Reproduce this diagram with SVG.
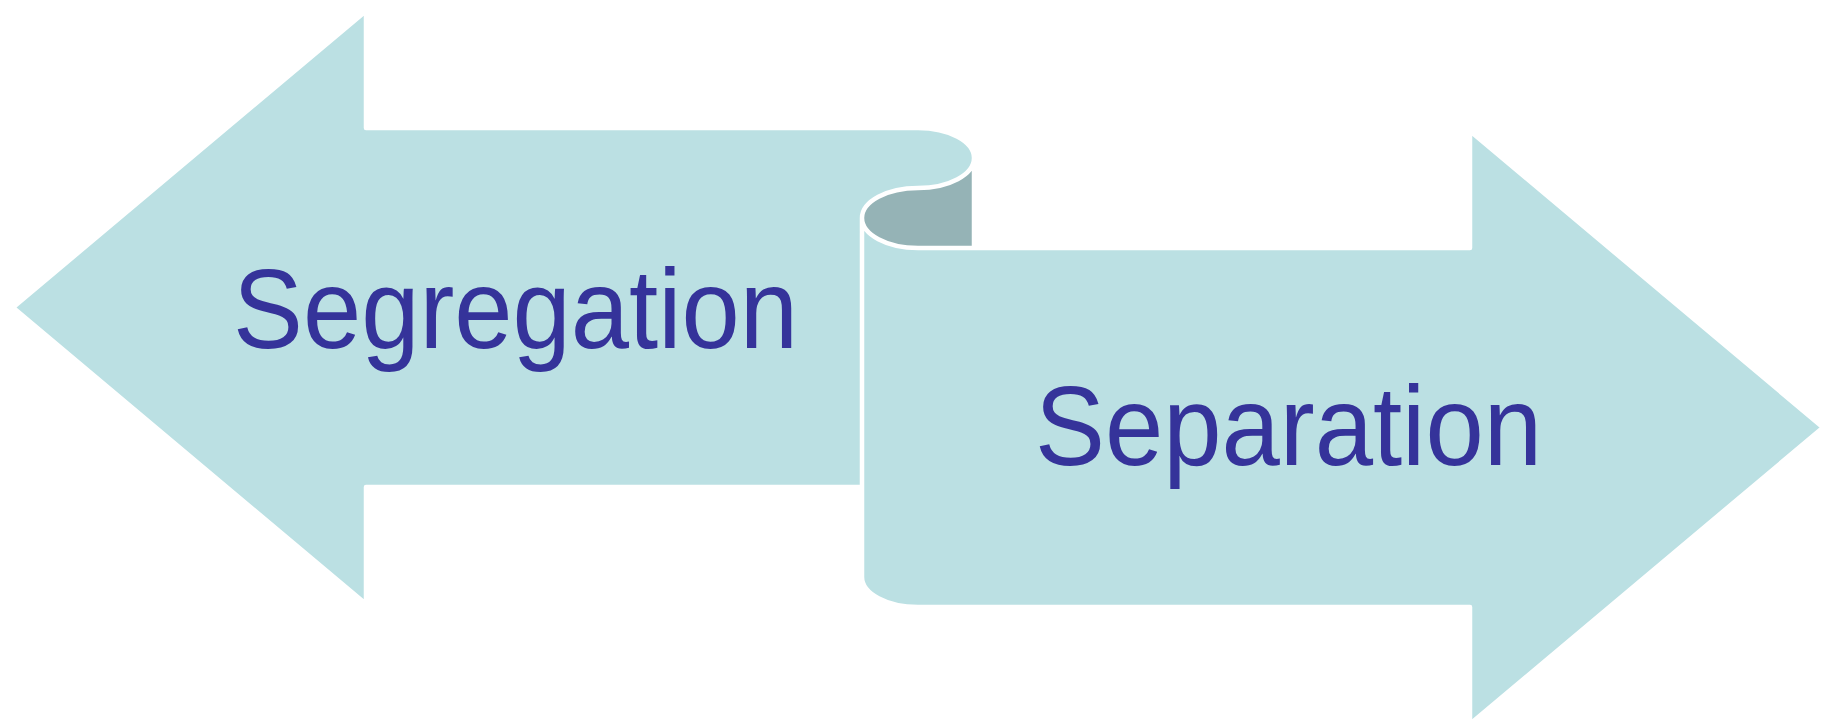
<svg xmlns="http://www.w3.org/2000/svg" width="1824" height="727" viewBox="0 0 1824 727">
  <style>
    .fill { fill: #BBE0E3; stroke: none; }
    .dark { fill: #95B3B6; stroke: none; }
    .outline { fill: none; stroke: #FFFFFF; stroke-width: 4.5; stroke-linejoin: round; }
    .label { font-family: "Liberation Sans", Arial, sans-serif; font-size: 114px; fill: #35339A; }
  </style>
  <rect width="1824" height="727" fill="#FFFFFF"/>
  <g id="ribbon">
    <path class="fill" d="M 13 307.5 L 366 11 L 366 128 L 918 128 A 56 30 0 0 1 918 188 A 56 30 0 0 0 918 248 L 1470 248 L 1470 131 L 1823 427.5 L 1470 724 L 1470 607 L 918 607 A 56 30 0 0 1 862 577 L 862 487 L 366 487 L 366 604 Z"/>
    <path class="dark" d="M 974 158 A 56 30 0 0 1 918 188 A 56 30 0 0 0 918 248 L 974 248 Z"/>
    <path class="outline" d="M 13 307.5 L 366 11 L 366 128 L 918 128 A 56 30 0 0 1 918 188 A 56 30 0 0 0 918 248 L 1470 248 L 1470 131 L 1823 427.5 L 1470 724 L 1470 607 L 918 607 A 56 30 0 0 1 862 577 L 862 487 L 366 487 L 366 604 Z M 974 158 L 974 248 M 862 218 L 862 487"/>
  </g>
  <g id="segregation">
    <text class="label" x="233" y="348" textLength="565" lengthAdjust="spacingAndGlyphs">Segregation</text>
  </g>
  <g id="separation">
    <text class="label" x="1035" y="465" textLength="507" lengthAdjust="spacingAndGlyphs">Separation</text>
  </g>
</svg>
